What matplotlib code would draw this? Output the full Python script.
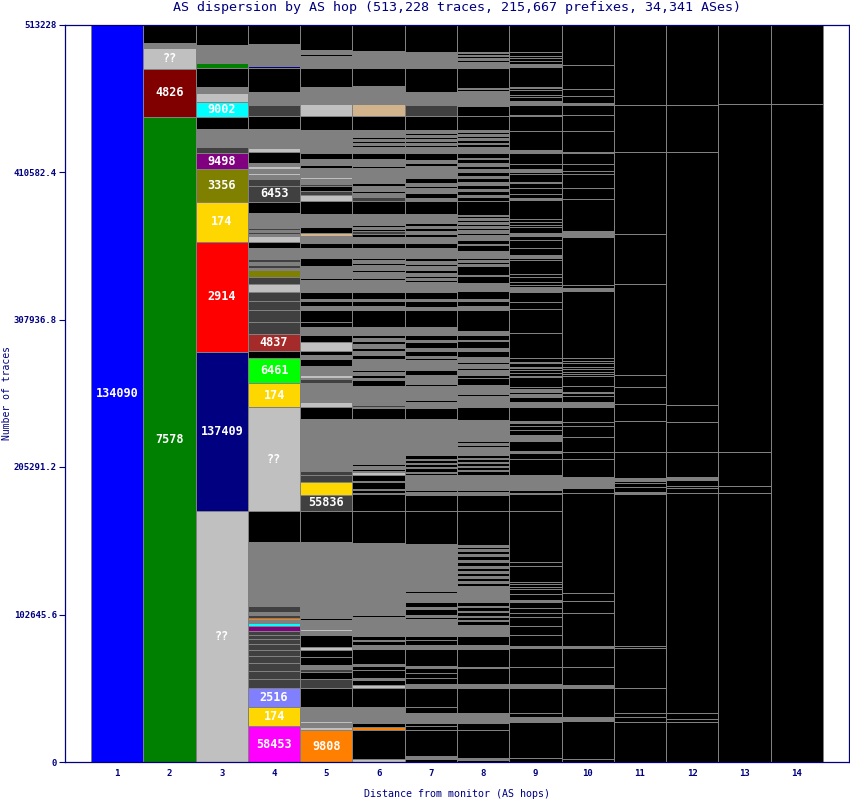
import matplotlib
matplotlib.use("Agg")
import matplotlib.pyplot as plt

TITLE = "AS dispersion by AS hop (513,228 traces, 215,667 prefixes, 34,341 ASes)"
TOTAL = 513228
HOPS = list(range(1, 15))
YTICKS = [0, 102645.6, 205291.2, 307936.8, 410582.4, 513228]
YTICK_LABELS = ["0", "102645.6", "205291.2", "307936.8", "410582.4", "513228"]

COLORS = {
    'K': '#000000', 'G': '#808080', 'D': '#404040', 'L': '#C0C0C0',
    'blue': '#0000FF', 'green': '#008000', 'maroon': '#800000', 'cyan': '#00FFFF',
    'purple': '#800080', 'olive': '#808000', 'gold': '#FFD700', 'red': '#FF0000',
    'navy': '#000080', 'brown': '#A52A2A', 'lime': '#00FF00', 'lavender': '#8080FF',
    'magenta': '#FF00FF', 'orange': '#FF8000', 'tan': '#D2B48C',
}

# segments per hop, listed from the top of the stack down: (traces, colour, label)
hop1 = [(513228, 'blue', '134090')]

hop2 = [(12530, 'K'), (3480, 'G'), (14620, 'L', '??'), (33410, 'maroon', '4826'),
        (449188, 'green', '7578')]

hop3 = [(14130, 'K'), (12320, 'G'), (3830, 'green'), (12880, 'K'), (4180, 'G'), (6260, 'L'),
        (10440, 'cyan', '9002'), (8770, 'K'), (12110, 'G'), (4590, 'D'),
        (11140, 'purple', '9498'), (22550, 'olive', '3356'), (28050, 'gold', '174'),
        (76560, 'red', '2914'), (110670, 'navy', '137409'), (174748, 'L', '??')]

hop4 = [(13430, 'K'), (15310, 'G'), (1250, 'navy'), (17330, 'K'), (5080, 'G'), (1180, 'D'),
        (2300, 'G'), (8140, 'D'), (8770, 'K'), (13220, 'G'), (3060, 'L'), (7170, 'K'),
        (2090, 'G'), (2090, 'L'), (2580, 'G'), (1600, 'L'), (2990, 'G'), (4800, 'D'),
        (10790, 'D', '6453'), (8070, 'K'), (10230, 'G'), (1480, 'D'), (1480, 'G'),
        (1480, 'D'), (1480, 'G'), (4040, 'L'), (4180, 'K'), (7660, 'G'), (1950, 'D'),
        (1950, 'G'), (1950, 'D'), (1950, 'G'), (4660, 'olive'), (5080, 'D'), (5430, 'L'),
        (6190, 'D'), (6470, 'D'), (8350, 'D'), (8350, 'D'), (11830, 'brown', '4837'),
        (4870, 'K'), (17190, 'lime', '6461'), (16700, 'gold', '174'), (72450, 'L', '??'),
        (21160, 'K'), (44750, 'G'), (4180, 'D'), (2090, 'G'), (2440, 'D'), (1040, 'orange'),
        (2300, 'G'), (2090, 'cyan'), (3060, 'purple'), (2990, 'D'), (3130, 'D'), (3480, 'D'),
        (4180, 'D'), (4180, 'D'), (4520, 'D'), (5570, 'D'), (5920, 'D'), (6260, 'D'),
        (12880, 'lavender', '2516'), (13430, 'gold', '174'), (24928, 'magenta', '58453')]

hop5 = [(17610, 'K'), (3130, 'G'), (1040, 'K'), (7450, 'G'), (900, 'green'), (13020, 'K'),
        (4180, 'G'), (900, 'K'), (4660, 'G'), (900, 'L'), (1880, 'G'), (8210, 'L'),
        (9400, 'K'), (16220, 'G'), (4180, 'K'), (3970, 'G'), (2300, 'K'), (6400, 'G'),
        (840, 'L'), (3690, 'G'), (1390, 'D'), (3830, 'K'), (2580, 'D'), (4180, 'L'),
        (9120, 'K'), (8630, 'G'), (4730, 'K'), (1740, 'tan'), (4660, 'G'), (3480, 'K'),
        (7380, 'G'), (5360, 'K'), (8350, 'G'), (1390, 'K'), (8140, 'G'), (5290, 'K'),
        (1530, 'G'), (3130, 'K'), (3130, 'G'), (8210, 'K'), (3060, 'K'), (5780, 'G'),
        (5220, 'K'), (5920, 'L'), (2780, 'K'), (2780, 'G'), (4870, 'K'), (840, 'olive'),
        (5780, 'G'), (1950, 'L'), (840, 'G'), (2780, 'D'), (8910, 'G'), (700, 'olive'),
        (3060, 'G'), (3900, 'L'), (8140, 'K'), (27350, 'G'), (840, 'magenta'), (7800, 'G'),
        (3200, 'D'), (4870, 'D'), (8630, 'gold'), (11350, 'D', '55836'), (21370, 'K'),
        (53310, 'G'), (1180, 'K'), (6610, 'G'), (840, 'L'), (2990, 'G'), (8140, 'K'),
        (2300, 'L'), (4870, 'K'), (5570, 'K'), (2990, 'G'), (2090, 'D'), (5010, 'K'),
        (6260, 'D'), (12670, 'K'), (9740, 'G'), (1950, 'L'), (2440, 'G'), (2440, 'L'),
        (21978, 'orange', '9808')]

hop6 = [(18300, 'K'), (2780, 'G'), (1180, 'K'), (1250, 'G'), (700, 'K'), (6260, 'G'),
        (12670, 'K'), (4590, 'G'), (700, 'K'), (3480, 'G'), (700, 'K'), (3060, 'G'),
        (8210, 'tan'), (9400, 'K'), (5080, 'G'), (1180, 'K'), (1390, 'G'), (1390, 'K'),
        (1740, 'G'), (1390, 'K'), (4040, 'G'), (4180, 'K'), (4870, 'G'), (1390, 'K'),
        (5850, 'G'), (1250, 'K'), (3340, 'G'), (1880, 'K'), (3270, 'G'), (1810, 'K'),
        (2370, 'G'), (3130, 'D'), (9120, 'K'), (7450, 'G'), (1390, 'K'), (1740, 'G'),
        (1390, 'K'), (1740, 'D'), (1880, 'K'), (4180, 'G'), (3480, 'K'), (7380, 'G'),
        (1180, 'K'), (2090, 'G'), (1390, 'K'), (3480, 'G'), (1390, 'K'), (4180, 'G'),
        (1390, 'K'), (8140, 'G'), (5290, 'K'), (1530, 'G'), (3130, 'K'), (3130, 'G'),
        (11280, 'K'), (5780, 'G'), (2090, 'K'), (2090, 'G'), (2090, 'K'), (2780, 'G'),
        (2090, 'K'), (2780, 'G'), (2780, 'K'), (7660, 'G'), (1740, 'K'), (1740, 'G'),
        (2090, 'K'), (1390, 'G'), (3970, 'K'), (13430, 'G'), (1180, 'D'), (1110, 'G'),
        (7450, 'K'), (28540, 'G'), (900, 'cyan'), (1880, 'G'), (1390, 'K'), (2090, 'G'),
        (1390, 'K'), (900, 'G'), (1670, 'L'), (4180, 'K'), (700, 'L'), (5290, 'K'),
        (700, 'olive'), (1670, 'K'), (900, 'L'), (11830, 'K'), (22060, 'K'), (41060, 'G'),
        (1110, 'K'), (8140, 'G'), (1180, 'K'), (13430, 'G'), (2780, 'K'), (700, 'G'),
        (2780, 'K'), (3130, 'G'), (10090, 'K'), (1600, 'G'), (2580, 'K'), (5780, 'K'),
        (1180, 'G'), (3690, 'K'), (1670, 'L'), (13220, 'K'), (11550, 'G'), (2780, 'K'),
        (1880, 'orange'), (20180, 'K'), (2208, 'L')]

hop7 = [(18790, 'K'), (2300, 'G'), (1040, 'K'), (1390, 'G'), (700, 'K'), (6260, 'G'),
        (16150, 'K'), (1600, 'G'), (900, 'K'), (6960, 'G'), (7800, 'D'), (9400, 'K'),
        (2300, 'G'), (1180, 'K'), (1390, 'G'), (1390, 'K'), (1390, 'G'), (1390, 'K'),
        (1390, 'G'), (1390, 'K'), (4390, 'G'), (4660, 'K'), (1880, 'G'), (2090, 'K'),
        (8770, 'G'), (3270, 'K'), (1880, 'G'), (1810, 'K'), (3480, 'G'), (3480, 'K'),
        (2020, 'G'), (9120, 'K'), (6260, 'G'), (1880, 'K'), (1390, 'G'), (2090, 'K'),
        (2090, 'G'), (1880, 'K'), (4180, 'G'), (3480, 'K'), (7380, 'G'), (1880, 'K'),
        (2090, 'G'), (1390, 'K'), (2780, 'G'), (2090, 'K'), (2090, 'G'), (1390, 'K'),
        (1390, 'G'), (1390, 'K'), (6750, 'G'), (5290, 'K'), (1530, 'G'), (3620, 'K'),
        (2300, 'G'), (11620, 'K'), (5780, 'G'), (3480, 'K'), (1390, 'G'), (4180, 'K'),
        (2090, 'G'), (3480, 'K'), (1390, 'G'), (1390, 'K'), (6960, 'G'), (3480, 'K'),
        (6260, 'G'), (1390, 'K'), (9740, 'G'), (1180, 'K'), (4180, 'G'), (7860, 'K'),
        (18100, 'G'), (700, 'K'), (6260, 'G'), (2780, 'K'), (700, 'G'), (2090, 'K'),
        (700, 'G'), (2090, 'K'), (1040, 'L'), (2440, 'K'), (700, 'L'), (1390, 'K'),
        (10440, 'G'), (1180, 'K'), (2300, 'G'), (11140, 'K'), (22970, 'K'), (22760, 'G'),
        (700, 'K'), (5080, 'G'), (700, 'K'), (3480, 'G'), (1180, 'K'), (6260, 'G'),
        (3480, 'K'), (1390, 'G'), (4390, 'K'), (1390, 'G'), (1390, 'K'), (11830, 'G'),
        (2780, 'K'), (3480, 'K'), (3130, 'G'), (11480, 'K'), (1600, 'G'), (3270, 'K'),
        (3480, 'K'), (4180, 'K'), (2990, 'G'), (12810, 'K'), (4180, 'K'), (7380, 'G'),
        (1880, 'K'), (3130, 'K'), (17750, 'K'), (2300, 'G'), (1938, 'K')]

hop8 = [(19210, 'K'), (840, 'G'), (1390, 'K'), (700, 'G'), (1390, 'K'), (1040, 'G'),
        (1390, 'K'), (1390, 'G'), (1040, 'K'), (1950, 'G'), (13920, 'K'), (840, 'G'),
        (1390, 'K'), (5920, 'G'), (1040, 'K'), (3130, 'G'), (7310, 'K'), (9400, 'K'),
        (1390, 'G'), (1390, 'K'), (1390, 'G'), (1740, 'K'), (1040, 'G'), (2090, 'K'),
        (1040, 'G'), (2090, 'K'), (4040, 'G'), (3270, 'K'), (700, 'G'), (2990, 'K'),
        (1880, 'G'), (2090, 'K'), (2090, 'G'), (2780, 'K'), (1390, 'G'), (2780, 'K'),
        (2090, 'G'), (2780, 'K'), (1390, 'G'), (2780, 'K'), (1390, 'G'), (2920, 'K'),
        (9610, 'K'), (1040, 'G'), (1390, 'K'), (1040, 'G'), (1390, 'K'), (1390, 'G'),
        (1390, 'K'), (1390, 'G'), (1390, 'K'), (2090, 'G'), (1390, 'K'), (3480, 'G'),
        (2780, 'K'), (700, 'G'), (4660, 'K'), (4590, 'G'), (1180, 'K'), (1390, 'G'),
        (1390, 'K'), (1880, 'G'), (5780, 'K'), (1180, 'G'), (4390, 'K'), (6060, 'G'),
        (5290, 'K'), (1530, 'G'), (3620, 'K'), (2300, 'G'), (15100, 'K'), (2300, 'G'),
        (3480, 'K'), (700, 'G'), (5080, 'K'), (2370, 'G'), (3480, 'K'), (3690, 'G'),
        (1390, 'K'), (2780, 'G'), (1390, 'K'), (3480, 'G'), (2090, 'K'), (4870, 'K'),
        (4180, 'G'), (1040, 'K'), (1040, 'G'), (1390, 'K'), (8140, 'G'), (8560, 'K'),
        (5780, 'G'), (840, 'K'), (8490, 'G'), (1250, 'K'), (1040, 'G'), (1390, 'K'),
        (5570, 'G'), (2090, 'K'), (700, 'G'), (2090, 'K'), (700, 'G'), (2090, 'K'),
        (700, 'G'), (2090, 'K'), (700, 'G'), (2780, 'K'), (10440, 'G'), (1390, 'K'),
        (2090, 'G'), (11140, 'K'), (23660, 'K'), (1390, 'G'), (1390, 'K'), (1390, 'G'),
        (2090, 'K'), (1390, 'G'), (2780, 'K'), (1390, 'G'), (2780, 'K'), (1390, 'G'),
        (2090, 'K'), (1390, 'G'), (2090, 'K'), (1390, 'G'), (2090, 'K'), (1390, 'G'),
        (2090, 'K'), (10930, 'G'), (2990, 'K'), (700, 'G'), (2780, 'K'), (700, 'G'),
        (2780, 'K'), (700, 'G'), (2090, 'K'), (700, 'G'), (2780, 'K'), (7660, 'G'),
        (6260, 'K'), (3130, 'G'), (12180, 'K'), (900, 'G'), (10930, 'K'), (2990, 'G'),
        (16980, 'K'), (7380, 'G'), (5010, 'K'), (19350, 'K'), (1180, 'G'), (1508, 'K')]

hop9 = [(19210, 'K'), (2370, 'K'), (1810, 'K'), (1670, 'K'), (2300, 'K'), (1180, 'G'),
        (1110, 'K'), (13500, 'K'), (1110, 'G'), (1180, 'K'), (3480, 'K'), (1600, 'K'),
        (3060, 'K'), (2300, 'G'), (6960, 'K'), (1180, 'G'), (9950, 'K'), (13710, 'K'),
        (1810, 'G'), (7450, 'K'), (3690, 'K'), (1670, 'G'), (1600, 'K'), (5360, 'K'),
        (700, 'G'), (3900, 'K'), (3970, 'K'), (2990, 'K'), (1180, 'G'), (13430, 'K'),
        (1670, 'K'), (2300, 'K'), (1180, 'K'), (4590, 'K'), (1880, 'G'), (2780, 'K'),
        (5780, 'K'), (4660, 'K'), (2300, 'G'), (1180, 'K'), (9740, 'K'), (1880, 'K'),
        (3480, 'K'), (2300, 'K'), (1180, 'K'), (3480, 'G'), (6960, 'K'), (5290, 'K'),
        (16700, 'K'), (17400, 'K'), (2370, 'K'), (1110, 'K'), (2370, 'K'), (1110, 'G'),
        (1180, 'K'), (2300, 'K'), (1880, 'K'), (900, 'G'), (6540, 'K'), (1810, 'K'),
        (1670, 'G'), (1600, 'K'), (1880, 'G'), (3480, 'K'), (3480, 'G'), (9740, 'K'),
        (1390, 'G'), (2090, 'K'), (2990, 'K'), (3480, 'K'), (3480, 'G'), (1180, 'K'),
        (6960, 'K'), (1110, 'G'), (3970, 'K'), (11140, 'K'), (10440, 'G'), (1880, 'K'),
        (1110, 'G'), (11420, 'K'), (35920, 'K'), (2580, 'K'), (10930, 'K'), (1600, 'K'),
        (1880, 'K'), (1810, 'K'), (3270, 'K'), (4180, 'K'), (1180, 'G'), (4590, 'K'),
        (3480, 'K'), (2780, 'K'), (6060, 'K'), (6260, 'K'), (7450, 'K'), (1810, 'G'),
        (13220, 'K'), (11620, 'K'), (2990, 'G'), (17400, 'K'), (2780, 'K'), (2370, 'G'),
        (700, 'K'), (25480, 'K'), (2668, 'K')]

hop10 = [(28050, 'K'), (16700, 'K'), (4870, 'K'), (5080, 'K'), (1390, 'G'), (6750, 'K'),
         (11140, 'K'), (14410, 'K'), (1110, 'G'), (7450, 'K'), (4870, 'K'), (2090, 'K'),
         (9950, 'K'), (7660, 'K'), (21850, 'K'), (4180, 'G'), (33620, 'K'), (2300, 'K'),
         (1670, 'G'), (47050, 'K'), (1670, 'K'), (1810, 'K'), (2370, 'K'), (1600, 'K'),
         (1880, 'K'), (1600, 'K'), (1390, 'K'), (7310, 'K'), (3620, 'K'), (1110, 'G'),
         (1670, 'K'), (4180, 'K'), (2990, 'G'), (900, 'K'), (10020, 'K'), (2780, 'K'),
         (7660, 'K'), (10440, 'K'), (5290, 'K'), (12110, 'K'), (8070, 'G'), (3480, 'K'),
         (69600, 'K'), (5150, 'K'), (8770, 'K'), (22550, 'K'), (1810, 'G'), (13220, 'K'),
         (12320, 'K'), (2300, 'G'), (20180, 'K'), (2370, 'G'), (26870, 'K'), (1948, 'K')]

hop11 = [(55890, 'K'), (32920, 'K'), (57070, 'K'), (34800, 'K'), (63130, 'K'), (8140, 'K'),
         (12040, 'K'), (11620, 'K'), (21580, 'K'), (18510, 'K'), (1670, 'G'), (1810, 'K'),
         (2370, 'K'), (3480, 'K'), (1600, 'G'), (105580, 'K'), (1810, 'K'), (27840, 'K'),
         (17400, 'K'), (2780, 'K'), (3060, 'K'), (28128, 'K')]

hop12 = [(55890, 'K'), (32920, 'K'), (175880, 'K'), (11620, 'K'), (20880, 'K'), (17820, 'K'),
         (1880, 'G'), (4180, 'K'), (1600, 'K'), (3060, 'K'), (153540, 'K'), (4180, 'K'),
         (1670, 'K'), (28108, 'K')]

hop13 = [(55540, 'K'), (241650, 'K'), (23870, 'K'), (5080, 'K'), (187088, 'K')]

hop14 = [(55540, 'K'), (457688, 'K')]

columns = [hop1, hop2, hop3, hop4, hop5, hop6, hop7, hop8, hop9, hop10, hop11, hop12, hop13, hop14]

NAVY = '#000080'
EDGE = '#808080'
MONO = 'DejaVu Sans Mono'

fig = plt.figure(figsize=(8.5, 8), dpi=100)
ax = fig.add_axes([65 / 850, 38 / 800, 784 / 850, 737.5 / 800])

for hop, segs in zip(HOPS, columns):
    top = TOTAL
    heights, bottoms, colors = [], [], []
    for seg in segs:
        n = seg[0]
        heights.append(n)
        bottoms.append(top - n)
        colors.append(COLORS[seg[1]])
        if len(seg) > 2:
            ax.text(hop, top - n / 2, seg[2], ha='center', va='center', color='white',
                    fontsize=8.5, fontweight='bold', family=MONO)
        top -= n
    ax.bar([hop] * len(heights), heights, bottom=bottoms, width=1, color=colors,
           edgecolor=EDGE, linewidth=0.5, antialiased=False)

ax.set_xlim(0, 15)
ax.set_ylim(0, TOTAL)
ax.set_xticks(HOPS)
ax.set_xticklabels([str(h) for h in HOPS], family=MONO, fontsize=6.5, color=NAVY,
                   fontweight='bold')
ax.set_yticks(YTICKS)
ax.set_yticklabels(YTICK_LABELS, family=MONO, fontsize=6.5, color=NAVY, fontweight='bold')
ax.tick_params(axis='y', length=4, color=NAVY, pad=2)
ax.tick_params(axis='x', length=0, pad=5)
for sp in ax.spines.values():
    sp.set_color(NAVY)
    sp.set_linewidth(0.9)

ax.set_xlabel("Distance from monitor (AS hops)", family=MONO, fontsize=7.2, color=NAVY)
ax.xaxis.set_label_coords(0.5, -0.036)
ax.set_ylabel("Number of traces", family=MONO, fontsize=7, color=NAVY)
ax.yaxis.set_label_coords(-0.068, 0.5)
fig.text(457 / 850, 1 - 8 / 800, TITLE, ha='center', va='center', family=MONO,
         fontsize=9.6, color=NAVY)

fig.savefig("out.png", dpi=100)
